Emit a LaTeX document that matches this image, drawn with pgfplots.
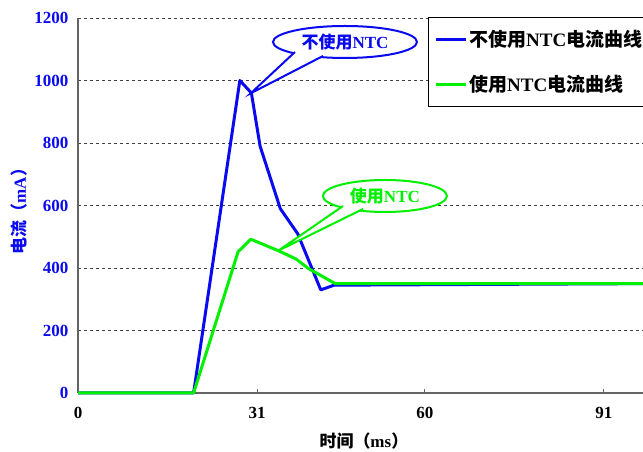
\documentclass[border=0pt]{standalone}
\usepackage{fontspec}
\setmainfont{Liberation Serif}
\newfontfamily\cjk{Noto Sans CJK SC}
\usepackage{pgfplots}
\pgfplotsset{compat=1.18}
\definecolor{cblue}{RGB}{10,10,240}
\definecolor{cgreen}{RGB}{0,240,0}
\definecolor{axgray}{RGB}{100,100,100}
\begin{document}
\begin{tikzpicture}
\useasboundingbox (0pt,0pt) rectangle (643pt,452pt);
\clip (0pt,0pt) rectangle (643pt,452pt);
\begin{axis}[
  at={(78pt,59pt)}, anchor=south west,
  scale only axis, width=565pt, height=375pt,
  xmin=0, xmax=97.75, ymin=0, ymax=1200,
  axis lines*=left,
  axis line style={axgray, line width=1.2pt},
  xtick={0,31,60,91}, ytick={0,200,...,1200},
  tick align=inside, major tick length=4pt,
  x tick style={axgray, line width=1pt},
  y tick style={draw=none},
  ymajorgrids, grid style={black!75, line width=0.6pt, dash pattern=on 3pt off 3pt},
  /pgf/number format/assume math mode=true,
  /pgf/number format/1000 sep={},
  yticklabel style={font=\bfseries\fontsize{17}{17}\selectfont, text=cblue, anchor=east, xshift=-6pt},
  xticklabel style={font=\bfseries\fontsize{17}{17}\selectfont, anchor=north, yshift=-11pt},
  xlabel={{\cjk\bfseries 时间（}ms{\cjk\bfseries ）}},
  ylabel={{\cjk\bfseries 电流（}mA{\cjk\bfseries ）}},
  xlabel style={at={(rel axis cs:0.506,-0.128)}, anchor=center, font=\bfseries\fontsize{17}{17}\selectfont},
  ylabel style={at={(rel axis cs:-0.1035,0.496)}, anchor=center, text=cblue, font=\bfseries\fontsize{17}{17}\selectfont},
  legend cell align=left,
  legend style={at={(rel axis cs:0.619,1.003)}, anchor=north west, draw=black, line width=0.8pt, fill=white,
    font=\bfseries\fontsize{19}{22}\selectfont, inner xsep=6pt, inner ysep=11pt, row sep=23pt},
  legend image code/.code={\draw[#1, line width=3pt] (0pt,0pt) -- (30pt,0pt);},
  clip=false,
]
\addplot[cblue, line width=3pt, line join=round] coordinates {
(0,0) (20,0) (28,1000) (30,960) (31.5,790) (35,590) (38,510) (42,330) (44.3,345) (97.75,350)};
\addlegendentry{{\cjk 不使用}NTC{\cjk 电流曲线}}
\addplot[cgreen, line width=3pt, line join=round] coordinates {
(0,0) (20,0) (27.7,452) (29.9,492) (34.7,455) (37.8,428) (39.8,399) (44.5,350) (97.75,350)};
\addlegendentry{{\cjk 使用}NTC{\cjk 电流曲线}}
% callout 1
\draw[cblue, line width=2pt, fill=white] (axis cs:46.19,1123.2) ellipse [x radius=72pt, y radius=16pt];
\fill[white] (axis cs:37.54,1091.2) -- (axis cs:29.88,959) -- (axis cs:42.39,1078.4) -- cycle;
\draw[cblue, line width=2pt, line join=miter] (axis cs:37.54,1091.2) -- (axis cs:29.88,959) -- (axis cs:42.39,1078.4);
\node[text=cblue, font=\bfseries\fontsize{17}{17}\selectfont] at (axis cs:46.19,1123.2) {{\cjk 不使用}NTC};
% callout 2
\draw[cgreen, line width=2pt, fill=white] (axis cs:53.1,630.4) ellipse [x radius=62pt, y radius=16pt];
\fill[white] (axis cs:45.85,598.4) -- (axis cs:34.65,455.4) -- (axis cs:49.3,588.8) -- cycle;
\draw[cgreen, line width=2pt, line join=miter] (axis cs:45.85,598.4) -- (axis cs:34.65,455.4) -- (axis cs:49.3,588.8);
\node[text=cgreen, font=\bfseries\fontsize{17}{17}\selectfont] at (axis cs:53.1,630.4) {{\cjk 使用}NTC};
\end{axis}
\end{tikzpicture}
\end{document}
